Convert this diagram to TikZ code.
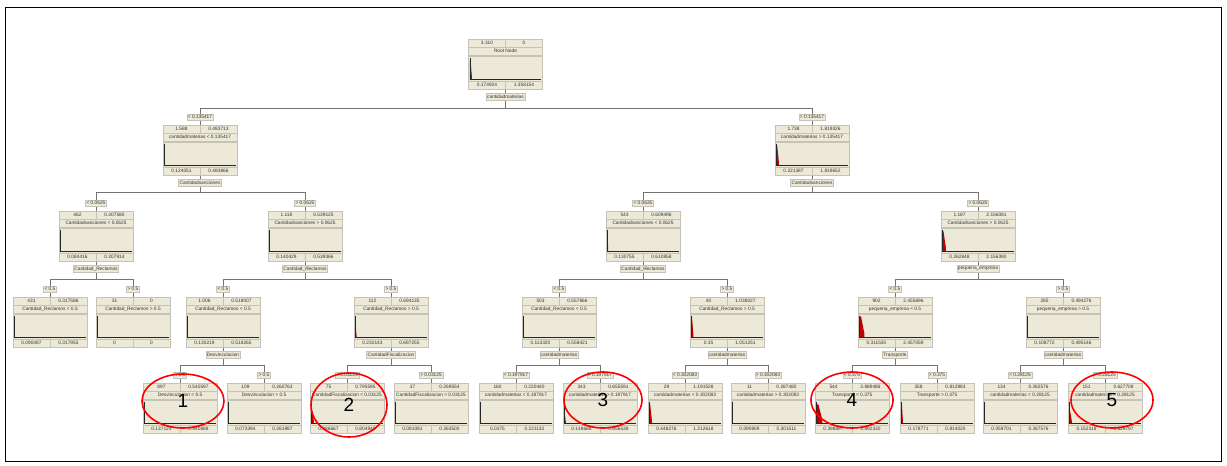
\documentclass[tikz,border=0pt]{standalone}
\usepackage{fontspec}
\setmainfont{Liberation Sans}
\usetikzlibrary{positioning,backgrounds,shapes.geometric}

\definecolor{panel}{HTML}{ECE9D8}
\definecolor{rim}{HTML}{ACA899}
\definecolor{histred}{HTML}{C00000}

\tikzset{
  dt/.style={font=\fontsize{4.8}{5}\selectfont, text=black!80},
  box/.style={fill=panel, draw=rim!60, minimum width=74pt, minimum height=50pt, inner sep=0pt, anchor=north},
  cell/.style={dt, fill=panel, draw=rim!70, minimum width=37pt, minimum height=8pt, inner sep=0pt},
  wide/.style={cell, minimum width=74pt},
  plot/.style={fill=panel, draw=rim!70, minimum width=74pt, minimum height=25pt, inner sep=0pt},
  tag/.style={dt, fill=panel, draw=rim!70, inner sep=1pt, minimum height=6.5pt},
  link/.style={draw=black!55, line width=0.9pt},
  ring/.style={ellipse, draw=red, line width=1.6pt, inner sep=0pt,
               font=\fontsize{19}{19}\selectfont},
}

% one tree node: name, top centre, count, value, title, low, high, bar width, bar height
\newcommand{\dtbox}[9]{%
  \node[box] (#1) at (#2) {};
  \node[cell, anchor=north west] at (#1.north west) {#3};
  \node[cell, anchor=north east] at (#1.north east) {#4};
  \node[wide, anchor=north] at ([yshift=-8pt]#1.north) {#5};
  \node[plot, anchor=north] (#1-p) at ([yshift=-16.5pt]#1.north) {};
  \node[cell, anchor=south west] at (#1.south west) {#6};
  \node[cell, anchor=south east] at (#1.south east) {#7};
  \fill[histred] ([shift={(1.5pt,1.5pt)}]#1-p.south west) -- ++(0pt,#9pt)
    -- ++({#8*0.35pt},0pt) -- ++({#8*0.65pt},{-#9*0.8pt}) -- ++(0pt,{-#9*0.2pt}) -- cycle;
  \draw[black!85] ([shift={(1.5pt,-2pt)}]#1-p.north west) |- ([shift={(-1.5pt,1.5pt)}]#1-p.south east);
}

\begin{document}
\begin{tikzpicture}[x=1pt, y=-1pt]
\useasboundingbox (0,0) rectangle (1227,466);
\draw[line width=1pt] (5,7) rectangle (1221,461);

% root
\dtbox{root}{505.5,39}{3.310}{0}{Root Node}{0.174924}{1.358154}{2}{19}
\node[tag, below=4pt of root] (root-s) {cantidadmaterias};

% level 1
\dtbox{l}{200,125}{1.588}{0.483713}{cantidadmaterias < 0.135417}{0.124051}{0.483866}{0}{0}
\node[tag, above=4.5pt of l] (l-c) {< 0.135417};
\node[tag, below=4pt of l] (l-s) {Cantidadsanciones};
\dtbox{r}{812,125}{1.738}{1.819326}{cantidadmaterias > 0.135417}{0.221387}{1.819652}{2.5}{20}
\node[tag, above=4.5pt of r] (r-c) {> 0.135417};
\node[tag, below=4pt of r] (r-s) {Cantidadsanciones};

% level 2
\dtbox{ll}{96,211}{462}{0.307580}{Cantidadsanciones < 0.0625}{0.084416}{0.307914}{0}{0}
\node[tag, above=4.5pt of ll] (ll-c) {< 0.0625};
\node[tag, below=4pt of ll] (ll-s) {Cantidad\_Reclamos};
\dtbox{lr}{305,211}{1.118}{0.539125}{Cantidadsanciones > 0.0625}{0.140429}{0.539366}{0}{0}
\node[tag, above=4.5pt of lr] (lr-c) {> 0.0625};
\node[tag, below=4pt of lr] (lr-s) {Cantidad\_Reclamos};
\dtbox{rl}{643,211}{543}{0.609496}{Cantidadsanciones < 0.0625}{0.130755}{0.610858}{0.8}{18}
\node[tag, above=4.5pt of rl] (rl-c) {< 0.0625};
\node[tag, below=4pt of rl] (rl-s) {Cantidad\_Reclamos};
\dtbox{rr}{978,211}{1.187}{2.156081}{Cantidadsanciones > 0.0625}{0.262848}{2.156390}{3.5}{20}
\node[tag, above=4.5pt of rr] (rr-c) {> 0.0625};
\node[tag, below=4pt of rr] (rr-s) {pequena\_empresa};

% level 3
\dtbox{lll}{50,297}{431}{0.317586}{Cantidad\_Reclamos < 0.5}{0.090487}{0.317955}{0}{0}
\node[tag, above=4.5pt of lll] (lll-c) {< 0.5};
\dtbox{llr}{133,297}{31}{0}{Cantidad\_Reclamos > 0.5}{0}{0}{0}{0}
\node[tag, above=4.5pt of llr] (llr-c) {> 0.5};
\dtbox{lrl}{223,297}{1.006}{0.518007}{Cantidad\_Reclamos < 0.5}{0.130219}{0.518265}{0}{0}
\node[tag, above=4.5pt of lrl] (lrl-c) {< 0.5};
\node[tag, below=4pt of lrl] (lrl-s) {Desvinculacion};
\dtbox{lrr}{391,297}{112}{0.694135}{Cantidad\_Reclamos > 0.5}{0.232143}{0.697255}{1.2}{11}
\node[tag, above=4.5pt of lrr] (lrr-c) {> 0.5};
\node[tag, below=4pt of lrr] (lrr-s) {CantidadFiscalizacion};
\dtbox{rll}{559,297}{503}{0.557866}{Cantidad\_Reclamos < 0.5}{0.113320}{0.558421}{0}{0}
\node[tag, above=4.5pt of rll] (rll-c) {< 0.5};
\node[tag, below=4pt of rll] (rll-s) {cantidadmaterias};
\dtbox{rlr}{727,297}{40}{1.038027}{Cantidad\_Reclamos > 0.5}{0.35}{1.051251}{2}{20}
\node[tag, above=4.5pt of rlr] (rlr-c) {> 0.5};
\node[tag, below=4pt of rlr] (rlr-s) {cantidadmaterias};
\dtbox{rrl}{895,297}{902}{2.455696}{pequena\_empresa < 0.5}{0.311530}{2.457059}{5}{21}
\node[tag, above=4.5pt of rrl] (rrl-c) {< 0.5};
\node[tag, below=4pt of rrl] (rrl-s) {Transporte};
\dtbox{rrr}{1063,297}{285}{0.494276}{pequena\_empresa > 0.5}{0.108772}{0.495146}{0}{0}
\node[tag, above=4.5pt of rrr] (rrr-c) {> 0.5};
\node[tag, below=4pt of rrr] (rrr-s) {cantidadmaterias};

% level 4 (leaves)
\dtbox{lrll}{180,383}{897}{0.540597}{Desvinculacion < 0.5}{0.137124}{0.540888}{0}{0}
\node[tag, above=4.5pt of lrll] (lrll-c) {< 0.5};
\dtbox{lrlr}{264,383}{109}{0.260763}{Desvinculacion > 0.5}{0.073394}{0.261987}{0}{0}
\node[tag, above=4.5pt of lrlr] (lrlr-c) {> 0.5};
\dtbox{lrrl}{347,383}{75}{0.795595}{CantidadFiscalizacion < 0.03125}{0.386667}{0.804940}{2.5}{13}
\node[tag, above=4.5pt of lrrl] (lrrl-c) {< 0.03125};
\dtbox{lrrr}{431,383}{37}{0.359554}{CantidadFiscalizacion > 0.03125}{0.081081}{0.363500}{0}{0}
\node[tag, above=4.5pt of lrrr] (lrrr-c) {> 0.03125};
\dtbox{rlll}{516,383}{160}{0.220440}{cantidadmaterias < 0.197917}{0.0375}{0.221132}{0}{0}
\node[tag, above=4.5pt of rlll] (rlll-c) {< 0.197917};
\dtbox{rllr}{600,383}{343}{0.655591}{cantidadmaterias > 0.197917}{0.148688}{0.656539}{1.5}{9}
\node[tag, above=4.5pt of rllr] (rllr-c) {> 0.197917};
\dtbox{rlrl}{685,383}{29}{1.191528}{cantidadmaterias < 0.302083}{0.448276}{1.212618}{2.5}{19}
\node[tag, above=4.5pt of rlrl] (rlrl-c) {< 0.302083};
\dtbox{rlrr}{768,383}{11}{0.287480}{cantidadmaterias > 0.302083}{0.090909}{0.301511}{0}{0}
\node[tag, above=4.5pt of rlrr] (rlrr-c) {> 0.302083};
\dtbox{rrll}{852,383}{544}{3.889486}{Transporte < 0.375}{0.398897}{3.892330}{6}{19}
\node[tag, above=4.5pt of rrll] (rrll-c) {< 0.375};
\dtbox{rrlr}{937,383}{358}{0.812883}{Transporte > 0.375}{0.178771}{0.814020}{1.5}{20}
\node[tag, above=4.5pt of rrlr] (rrlr-c) {> 0.375};
\dtbox{rrrl}{1020,383}{134}{0.262576}{cantidadmaterias < 0.28125}{0.059701}{0.267576}{0}{0}
\node[tag, above=4.5pt of rrrl] (rrrl-c) {< 0.28125};
\dtbox{rrrr}{1105,383}{151}{0.627708}{cantidadmaterias > 0.28125}{0.152318}{0.629797}{2.5}{12}
\node[tag, above=4.5pt of rrrr] (rrrr-c) {> 0.28125};

% marked leaves
\node[ring, minimum width=82pt, minimum height=54pt] (m1) at (183,401) {1};
\node[ring, minimum width=76pt, minimum height=64pt] (m2) at (349,405) {2};
\node[ring, minimum width=78pt, minimum height=56pt] (m3) at (603,400) {3};
\node[ring, minimum width=82pt, minimum height=56pt] (m4) at (852,400) {4};
\node[ring, minimum width=82pt, minimum height=56pt] (m5) at (1112,400) {5};

\begin{scope}[on background layer]
  \fill[white] (0,0) rectangle (1227,466);
  \foreach \p in {root,l,r,ll,lr,rl,rr,lrl,lrr,rll,rlr,rrl,rrr}
    \draw[link] (\p) -- (\p-s);
  \foreach \p/\c/\d in {root/l/12, root/r/12,
      l/ll/10, l/lr/10, r/rl/10, r/rr/10,
      ll/lll/11, ll/llr/11, lr/lrl/11, lr/lrr/11,
      rl/rll/11, rl/rlr/11, rr/rrl/11, rr/rrr/11,
      lrl/lrll/11, lrl/lrlr/11, lrr/lrrl/11, lrr/lrrr/11,
      rll/rlll/11, rll/rllr/11, rlr/rlrl/11, rlr/rlrr/11,
      rrl/rrll/11, rrl/rrlr/11, rrr/rrrl/11, rrr/rrrr/11}
    \draw[link] (\p-s) -- ++(0,\d) -| (\c-c) -- (\c);
\end{scope}
\end{tikzpicture}
\end{document}
